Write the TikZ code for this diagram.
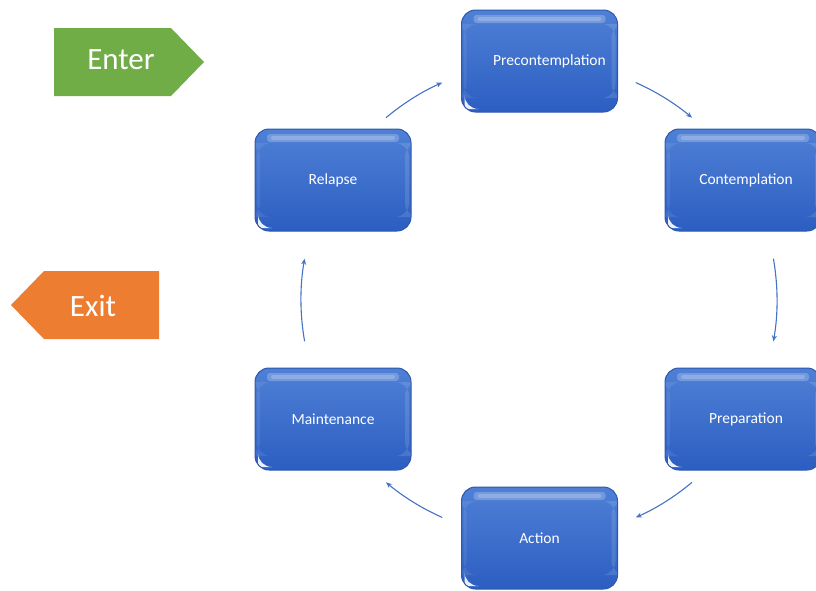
\documentclass[tikz,border=0pt]{standalone}
\usepackage{fontspec}
\setmainfont{Carlito}
\usetikzlibrary{calc,arrows.meta}

\definecolor{boxtop}{HTML}{4F80D6}
\definecolor{boxbot}{HTML}{2C5EC2}
\definecolor{boxedge}{HTML}{2D58AC}
\definecolor{flow}{HTML}{4472C4}
\definecolor{entergreen}{HTML}{70AD47}
\definecolor{exitorange}{HTML}{ED7D31}

\tikzset{
  stagebox/.style={
    rounded corners=14pt, minimum width=156pt, minimum height=102pt,
    top color=boxtop, bottom color=boxbot, draw=boxedge, line width=1pt,
    text=white, font=\fontsize{15.5}{18}\selectfont,
    path picture={
      % glossy bar along the top edge
      \fill[white,opacity=0.22,rounded corners=3pt]
        ([xshift=12pt,yshift=-5pt]path picture bounding box.north west)
        rectangle ([xshift=-12pt,yshift=-13pt]path picture bounding box.north east);
      \fill[white,opacity=0.2,rounded corners=2pt]
        ([xshift=16pt,yshift=-7pt]path picture bounding box.north west)
        rectangle ([xshift=-16pt,yshift=-11pt]path picture bounding box.north east);
      % light rims on the sides
      \fill[white,opacity=0.12]
        ([xshift=-6pt,yshift=-14pt]path picture bounding box.north east)
        rectangle ([xshift=-2pt,yshift=14pt]path picture bounding box.south east);
      \fill[white,opacity=0.08]
        ([xshift=2pt,yshift=-14pt]path picture bounding box.north west)
        rectangle ([xshift=5pt,yshift=14pt]path picture bounding box.south west);
      % small glare in the lower left corner
      \fill[white,opacity=0.9]
        ([xshift=3pt,yshift=3pt]path picture bounding box.south west)
        -- ++(0,9pt) arc[start angle=180,end angle=270,radius=9pt] -- cycle;
    }},
  flowarrow/.style={draw=flow, line width=1.1pt, -{Stealth[length=6pt,width=5pt]}},
  tagtext/.style={text=white, font=\fontsize{31}{35}\selectfont},
}

\begin{document}
\begin{tikzpicture}[x=1pt,y=1pt]
  \useasboundingbox (0,0) rectangle (816,-590);
  \clip (0,0) rectangle (816,-590);

  % stages of the cycle
  \node[stagebox] (pre)  at (539.5,-61)  {\hspace*{20pt}Precontemplation};
  \node[stagebox] (con)  at (743,-180)   {\hspace*{6pt}Contemplation};
  \node[stagebox] (prep) at (743,-419)   {\hspace*{6pt}Preparation};
  \node[stagebox] (act)  at (539.5,-538) {Action};
  \node[stagebox] (main) at (333,-419)   {Maintenance};
  \node[stagebox] (rel)  at (333,-180)   {Relapse};

  % curved arrows on a common circle between the stages
  \coordinate (C) at (539,-300);
  \def\rad{238}
  \coordinate (s1) at ($(C)+(130:\rad)$);
  \coordinate (s2) at ($(C)+(66:\rad)$);
  \coordinate (s3) at ($(C)+(10:\rad)$);
  \coordinate (s4) at ($(C)+(-50:\rad)$);
  \coordinate (s5) at ($(C)+(-114:\rad)$);
  \coordinate (s6) at ($(C)+(190:\rad)$);
  \draw[flowarrow] (s1) arc[start angle=130,end angle=114,radius=\rad];
  \draw[flowarrow] (s2) arc[start angle=66,end angle=50,radius=\rad];
  \draw[flowarrow] (s3) arc[start angle=10,end angle=-10,radius=\rad];
  \draw[flowarrow] (s4) arc[start angle=-50,end angle=-66,radius=\rad];
  \draw[flowarrow] (s5) arc[start angle=-114,end angle=-130,radius=\rad];
  \draw[flowarrow] (s6) arc[start angle=190,end angle=170,radius=\rad];

  % entry and exit tags
  \fill[entergreen] (54,-28) -- (171,-28) -- (204,-62) -- (171,-96) -- (54,-96) -- cycle;
  \node[tagtext] (enter) at (121,-60) {Enter};
  \fill[exitorange] (159,-271) -- (44,-271) -- (11,-305) -- (44,-339) -- (159,-339) -- cycle;
  \node[tagtext] (exit) at (93,-306) {Exit};
\end{tikzpicture}
\end{document}
